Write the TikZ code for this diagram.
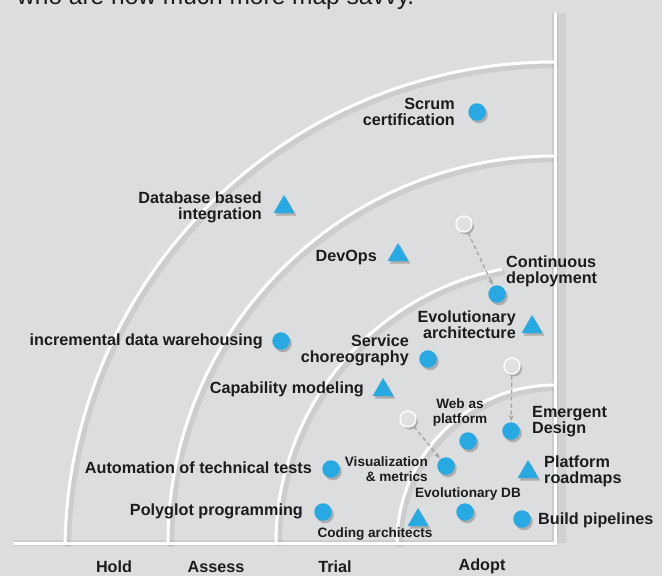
\documentclass[tikz,border=0pt]{standalone}
\usepackage{fontspec}
\setmainfont{Liberation Sans}
\newfontfamily\labfont{Liberation Sans Bold}
\usetikzlibrary{shapes.geometric,shadows,arrows.meta}
\definecolor{bgc}{HTML}{DCDDDF}
\definecolor{rblue}{HTML}{29A9E1}
\definecolor{ink}{HTML}{1C1C1C}
\definecolor{arrowgray}{HTML}{A3A4A6}
\definecolor{hollowfill}{HTML}{E0E1E3}
\begin{document}
\begin{tikzpicture}[x=1pt,y=1pt,
  mshadow/.style={drop shadow={shadow xshift=2pt,shadow yshift=-2.5pt,opacity=0.22,fill=black}},
  dotm/.style={circle,fill=rblue,minimum size=17.5pt,inner sep=0pt,mshadow},
  trim/.style={regular polygon,regular polygon sides=3,fill=rblue,minimum size=24pt,inner sep=0pt,mshadow},
  hollowm/.style={circle,draw=white,line width=1.3pt,fill=hollowfill,minimum size=16pt,inner sep=0pt,mshadow},
  lbl/.style={font=\labfont\fontsize{16.2}{16}\selectfont,text=ink,inner sep=0pt},
  slbl/.style={font=\labfont\fontsize{13.6}{15}\selectfont,text=ink,inner sep=0pt},
  ringline/.style={draw=white,line width=3pt},
  ringshadow/.style={draw=black,opacity=0.07,line width=6pt},
  movearrow/.style={draw=arrowgray,line width=1.3pt,dash pattern=on 4pt off 3pt,-{Stealth[length=6pt,width=5pt]},shorten >=1pt,shorten <=1pt}
]
\useasboundingbox (0,0) rectangle (662,-576);
\clip (0,0) rectangle (662,-576);
\fill[bgc] (0,0) rectangle (662,-576);

% cut-off caption line at the top
\node[anchor=base west,font=\fontsize{24.5}{26}\selectfont,text=ink,inner sep=0pt] (caption) at (17,-4) {who are now much more map savvy.};

\coordinate (origin) at (555,-543);
\coordinate (xend) at (14,-543);
\coordinate (ytop) at (555,-13);

% ring shadows
\begin{scope}[xshift=3pt,yshift=-3pt]
  \begin{scope}
    \clip (14,-543) rectangle (555,0);
    \draw[ringshadow] (555,-552) circle[radius=490];
    \draw[ringshadow] (555,-543) circle[radius=387];
    \draw[ringshadow] (555,-543) circle[radius=158];
  \end{scope}
  \draw[ringshadow] (276,-543) arc[start angle=180,end angle=101,radius=279];
  \draw[ringshadow] (xend) -- (origin) -- (ytop);
\end{scope}
\draw[draw=black,opacity=0.05,line width=10pt] (561,-543) -- (561,-13);

% rings
\begin{scope}
  \clip (14,-543) rectangle (555,0);
  \draw[ringline] (555,-552) circle[radius=490];
  \draw[ringline] (555,-543) circle[radius=387];
  \draw[ringline] (555,-543) circle[radius=158];
\end{scope}
\draw[ringline] (276,-543) arc[start angle=180,end angle=101,radius=279];

% axes
\draw[ringline] (xend) -- (origin) -- (ytop);

% ring names
\node[lbl] (hold) at (114,-566.5) {Hold};
\node[lbl] (assess) at (216,-566.5) {Assess};
\node[lbl] (trial) at (335,-566.5) {Trial};
\node[lbl] (adopt) at (482,-566.5) {Adopt};

% markers
\node[dotm] (scrum) at (477,-112) {};
\node[trim] (dbint) at (284,-207) {};
\node[trim] (devops) at (398,-255) {};
\node[hollowm] (h1) at (464,-224) {};
\node[dotm] (contdep) at (497,-294) {};
\node[trim] (evoarch) at (532,-327) {};
\node[dotm] (idw) at (281,-341) {};
\node[dotm] (servchor) at (428,-359) {};
\node[trim] (capmod) at (383,-390) {};
\node[hollowm] (h2) at (512,-366) {};
\node[dotm] (emergent) at (511,-431) {};
\node[dotm] (webplat) at (468,-441) {};
\node[hollowm] (h3) at (408,-419) {};
\node[dotm] (visual) at (446,-466) {};
\node[dotm] (autotest) at (331,-469) {};
\node[trim] (platroad) at (528,-472) {};
\node[dotm] (evodb) at (465,-512) {};
\node[dotm] (polyglot) at (323,-512) {};
\node[trim] (codarch) at (418,-520) {};
\node[dotm] (build) at (522,-519) {};

% movement arrows
\draw[movearrow] (h1) -- (contdep);
\draw[movearrow] (h2) -- (emergent);
\draw[movearrow] (h3) -- (visual);

% labels
\node[lbl,anchor=east,align=right] (lscrum) at (455,-111.5) {Scrum\\certification};
\node[lbl,anchor=east,align=right] (ldbint) at (262,-207) {Database based\\integration};
\node[lbl,anchor=east] (ldevops) at (377,-258) {DevOps};
\node[lbl,anchor=west,align=left] (lcontdep) at (506,-271.5) {Continuous\\deployment};
\node[lbl,anchor=east,align=right] (levoarch) at (516,-325) {Evolutionary\\architecture};
\node[lbl,anchor=east] (lidw) at (263,-341) {incremental data warehousing};
\node[lbl,anchor=east,align=right] (lservchor) at (409,-350.5) {Service\\choreography};
\node[lbl,anchor=east] (lcapmod) at (364,-389.5) {Capability modeling};
\node[lbl,anchor=west,align=left] (lemergent) at (532,-422) {Emergent\\Design};
\node[slbl,align=center] (lwebplat) at (460,-412.5) {Web as\\platform};
\node[slbl,anchor=east,align=right] (lvisual) at (428,-469) {Visualization\\\& metrics};
\node[lbl,anchor=east] (lautotest) at (312,-468) {Automation of technical tests};
\node[lbl,anchor=west,align=left] (lplatroad) at (544,-471.5) {Platform\\roadmaps};
\node[slbl] (levodb) at (468,-494) {Evolutionary DB};
\node[lbl,anchor=east] (lpolyglot) at (303,-511) {Polyglot programming};
\node[slbl] (lcodarch) at (375,-534) {Coding architects};
\node[lbl,anchor=west] (lbuild) at (538,-520) {Build pipelines};
\end{tikzpicture}
\end{document}
